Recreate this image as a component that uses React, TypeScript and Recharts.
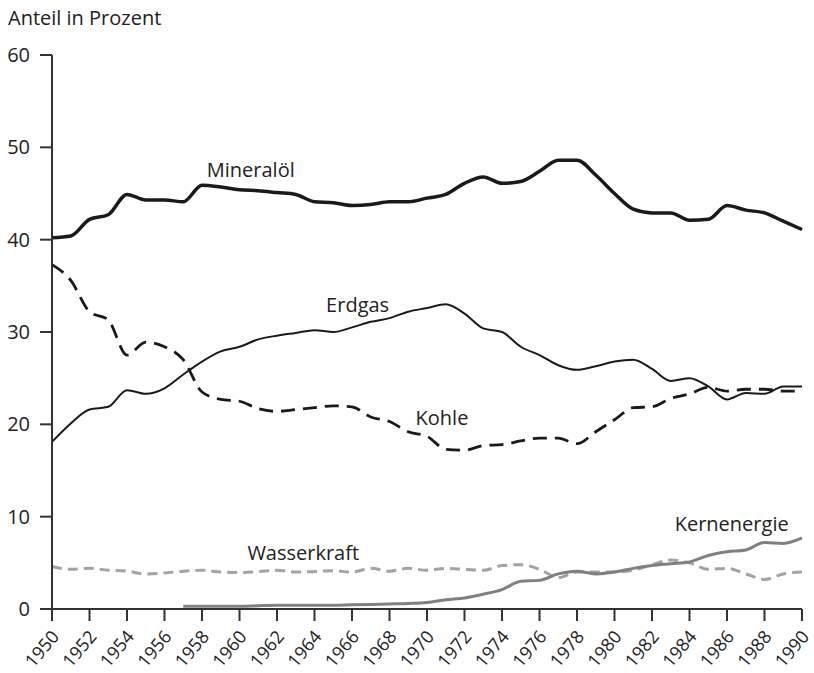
import React from 'react';
import { LineChart, Line, XAxis, YAxis, ReferenceDot, Customized } from 'recharts';

const years: number[] = [
  1950, 1951, 1952, 1953, 1954, 1955, 1956, 1957, 1958, 1959,
  1960, 1961, 1962, 1963, 1964, 1965, 1966, 1967, 1968, 1969,
  1970, 1971, 1972, 1973, 1974, 1975, 1976, 1977, 1978, 1979,
  1980, 1981, 1982, 1983, 1984, 1985, 1986, 1987, 1988, 1989, 1990,
];

const mineraloel: number[] = [
  40.2, 40.4, 42.2, 42.7, 44.9, 44.3, 44.3, 44.1, 45.9, 45.7,
  45.4, 45.3, 45.1, 44.9, 44.1, 44.0, 43.7, 43.8, 44.1, 44.1,
  44.5, 44.9, 46.1, 46.8, 46.1, 46.3, 47.4, 48.6, 48.6, 47.0,
  45.0, 43.3, 42.9, 42.9, 42.1, 42.2, 43.7, 43.2, 42.9, 42.0, 41.1,
];

const erdgas: number[] = [
  18.1, 20.1, 21.6, 21.9, 23.7, 23.3, 23.9, 25.4, 26.8, 27.9,
  28.4, 29.2, 29.6, 29.9, 30.2, 30.0, 30.5, 31.1, 31.5, 32.2,
  32.6, 33.0, 32.0, 30.4, 30.0, 28.4, 27.5, 26.4, 25.9, 26.3,
  26.8, 27.0, 26.0, 24.7, 25.0, 24.1, 22.7, 23.4, 23.3, 24.1, 24.1,
];

const kohle: number[] = [
  37.3, 35.6, 32.2, 31.3, 27.5, 28.9, 28.4, 27.0, 23.5, 22.7,
  22.5, 21.7, 21.4, 21.6, 21.8, 22.0, 21.9, 20.8, 20.3, 19.2,
  18.7, 17.3, 17.2, 17.7, 17.8, 18.2, 18.5, 18.5, 17.9, 19.2,
  20.5, 21.8, 21.9, 22.8, 23.3, 24.0, 23.6, 23.8, 23.8, 23.6, 23.6,
];

const wasserkraft: number[] = [
  4.6, 4.3, 4.4, 4.2, 4.1, 3.8, 3.9, 4.1, 4.2, 4.0,
  3.95, 4.05, 4.2, 4.0, 4.05, 4.15, 4.0, 4.4, 4.1, 4.4,
  4.2, 4.4, 4.3, 4.2, 4.7, 4.8, 4.3, 3.4, 4.0, 4.0,
  4.0, 4.2, 4.8, 5.3, 5.0, 4.3, 4.4, 3.8, 3.2, 3.8, 4.0,
];

const kernenergie: (number | null)[] = [
  null, null, null, null, null, null, null, 0.3, 0.3, 0.3,
  0.3, 0.35, 0.4, 0.4, 0.4, 0.4, 0.45, 0.5, 0.55, 0.6,
  0.7, 1.0, 1.2, 1.6, 2.1, 3.0, 3.1, 3.8, 4.1, 3.8,
  4.0, 4.4, 4.7, 4.9, 5.1, 5.8, 6.2, 6.4, 7.2, 7.1, 7.7,
];

const xTicks: number[] = [
  1950, 1952, 1954, 1956, 1958, 1960, 1962, 1964, 1966, 1968, 1970,
  1972, 1974, 1976, 1978, 1980, 1982, 1984, 1986, 1988, 1990,
];
const yTicks: number[] = [0, 10, 20, 30, 40, 50, 60];

const seriesLabels = [
  { text: 'Mineralöl', year: 1960.6, value: 46.8 },
  { text: 'Erdgas', year: 1966.3, value: 32.2 },
  { text: 'Kohle', year: 1970.8, value: 19.9 },
  { text: 'Wasserkraft', year: 1963.4, value: 5.3 },
  { text: 'Kernenergie', year: 1986.25, value: 8.5 },
];

const data = years.map((y, i) => ({
  year: y,
  mineraloel: mineraloel[i],
  erdgas: erdgas[i],
  kohle: kohle[i],
  wasserkraft: wasserkraft[i],
  kernenergie: kernenergie[i],
}));

const FONT = '"Open Sans", "Noto Sans", sans-serif';
const FS = 20;
const TEXT = '#222';

const XTick = (props: any) => {
  const { x, y, payload } = props;
  const ax = x + 8;
  const ay = y + 16;
  return (
    <text
      x={ax}
      y={ay}
      textAnchor="end"
      fontFamily={FONT}
      fontSize={18}
      fill={TEXT}
      transform={`rotate(-50, ${ax}, ${ay})`}
    >
      {payload.value}
    </text>
  );
};

const LabelShape = (text: string) => (props: any) => (
  <text x={props.cx} y={props.cy} textAnchor="middle" fontFamily={FONT} fontSize={FS} fill={TEXT}>
    {text}
  </text>
);

export default function App() {
  return (
    <div style={{ position: 'absolute', left: 0, top: 0, background: '#fff' }}>
      <LineChart
        width={814}
        height={673}
        data={data}
        margin={{ top: 55, right: 12, bottom: 0, left: 0 }}
      >
        <Customized
          component={() => (
            <text x={8} y={25} fontFamily={FONT} fontSize={FS} fill={TEXT}>
              Anteil in Prozent
            </text>
          )}
        />
        <XAxis
          dataKey="year"
          type="number"
          domain={[1950, 1990]}
          ticks={xTicks}
          interval={0}
          tickSize={12}
          tickMargin={0}
          height={64}
          axisLine={{ stroke: '#333', strokeWidth: 2 }}
          tickLine={{ stroke: '#333', strokeWidth: 2 }}
          tick={<XTick />}
        />
        <YAxis
          type="number"
          domain={[0, 60]}
          ticks={yTicks}
          interval={0}
          width={52}
          tickSize={12}
          tickMargin={10}
          axisLine={{ stroke: '#333', strokeWidth: 2 }}
          tickLine={{ stroke: '#333', strokeWidth: 2 }}
          tick={{ fontFamily: FONT, fontSize: FS, fill: TEXT }}
        />
        <Line
          type="monotone"
          dataKey="wasserkraft"
          stroke="#a3a3a3"
          strokeWidth={3}
          strokeDasharray="10 6"
          dot={false}
          isAnimationActive={false}
        />
        <Line
          type="monotone"
          dataKey="kernenergie"
          stroke="#808080"
          strokeWidth={3}
          dot={false}
          connectNulls={false}
          isAnimationActive={false}
        />
        <Line
          type="monotone"
          dataKey="kohle"
          stroke="#1a1a1a"
          strokeWidth={2.8}
          strokeDasharray="14 8"
          dot={false}
          isAnimationActive={false}
        />
        <Line
          type="monotone"
          dataKey="erdgas"
          stroke="#1a1a1a"
          strokeWidth={2}
          dot={false}
          isAnimationActive={false}
        />
        <Line
          type="monotone"
          dataKey="mineraloel"
          stroke="#1a1a1a"
          strokeWidth={3.5}
          dot={false}
          isAnimationActive={false}
        />
        {seriesLabels.map((l) => (
          <ReferenceDot key={l.text} x={l.year} y={l.value} r={0} shape={LabelShape(l.text)} />
        ))}
      </LineChart>
    </div>
  );
}
